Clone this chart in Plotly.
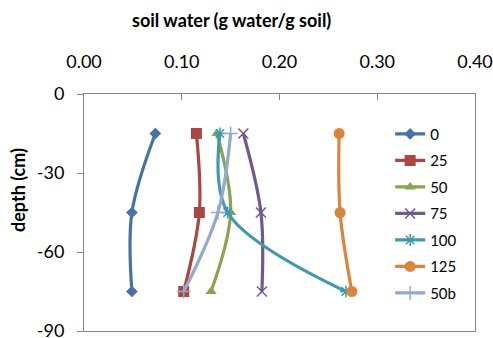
import plotly.graph_objects as go

depth = [-15, -45, -75]
s0 = [0.073, 0.049, 0.049]
s25 = [0.115, 0.118, 0.102]
s50 = [0.136, 0.150, 0.130]
s75 = [0.163, 0.181, 0.182]
s100 = [0.139, 0.147, 0.268]
s125 = [0.261, 0.262, 0.274]
s50b = [0.150, 0.137, 0.102]

names = ["0", "25", "50", "75", "100", "125", "50b"]
values = [s0, s25, s50, s75, s100, s125, s50b]
y_ticks = [0, -30, -60, -90]
y_ticktext = ["0", "-30", "-60", "-90"]

colors = ["#4572A7", "#AA4643", "#89A54E", "#71588F", "#4198AF", "#DB843D", "#93A9CF"]
symbols = ["diamond", "square", "triangle-up", "x-thin", "asterisk", "circle", "cross-thin"]
msizes = [9, 11, 10, 10, 10, 11, 10]

FONT = "Lato"
fig = go.Figure()
for i, (n, v) in enumerate(zip(names, values)):
    sym = symbols[i]
    thin = sym.endswith("thin") or sym == "asterisk"
    fig.add_trace(go.Scatter(
        x=v, y=depth, name=n, mode="lines+markers",
        line=dict(color=colors[i], width=3.2, shape="spline", smoothing=1.0),
        marker=dict(symbol=sym, size=msizes[i], color=colors[i],
                    line=dict(color=colors[i], width=1.5 if thin else 0)),
        legendgroup=n,
    ))

fig.update_layout(
    width=493, height=338,
    margin=dict(l=84, r=18, t=94, b=7, autoexpand=False),
    paper_bgcolor="white", plot_bgcolor="white",
    font=dict(family=FONT, size=18, color="#000000"),
    showlegend=True,
    legend=dict(x=0.783, y=0.90, xanchor="left", yanchor="top",
                font=dict(family=FONT, size=15), tracegroupgap=4,
                bgcolor="rgba(0,0,0,0)"),
    xaxis=dict(side="top", range=[0, 0.4], dtick=0.1, tickformat=".2f",
               showgrid=False, zeroline=False, showline=True, mirror=True,
               linecolor="#868686", linewidth=1, ticks="inside", ticklen=6,
               tickcolor="#868686", ticklabelstandoff=18, automargin=False),
    yaxis=dict(range=[-90.001, 0.001], tickvals=y_ticks, ticktext=y_ticktext,
               showgrid=False, zeroline=False, ticklabeloverflow="allow",
               showline=True, mirror=True, linecolor="#868686", linewidth=1,
               ticks="outside", ticklen=6, tickcolor="#868686",
               ticklabelstandoff=9, automargin=False),
    annotations=[
        dict(text="<b>soil water (g water/g soil)</b>", x=0.376, y=1,
             xref="paper", yref="paper", xanchor="center", yanchor="middle",
             yshift=74, showarrow=False, font=dict(family=FONT, size=18)),
        dict(text="<b>depth (cm)</b>", x=0, y=0.595, xref="paper", yref="paper",
             xanchor="center", yanchor="middle", xshift=-66, textangle=-90,
             showarrow=False, font=dict(family=FONT, size=18)),
    ],
)
fig.write_html("out.html")
